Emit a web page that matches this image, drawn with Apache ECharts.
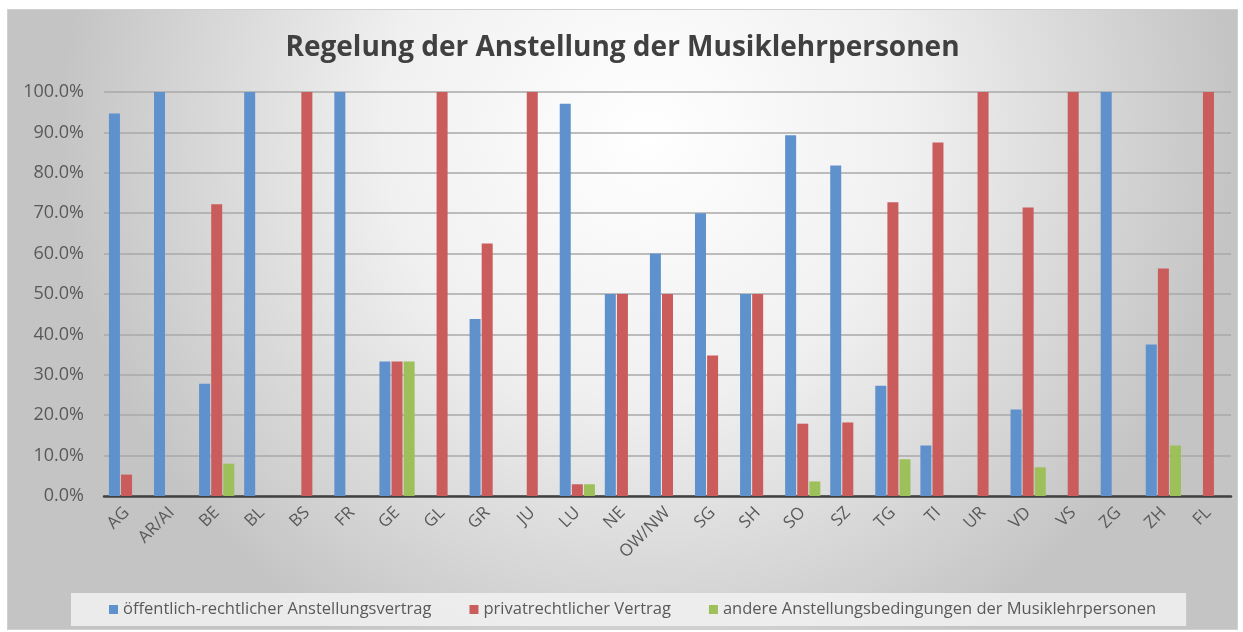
<!DOCTYPE html>
<html><head><meta charset="utf-8">
<script src="https://cdn.jsdelivr.net/npm/echarts@6/dist/echarts.min.js"></script>
<style>
html,body{margin:0;padding:0;background:#fff;width:1243px;height:632px;overflow:hidden}
#c{position:absolute;left:7px;top:9px;width:1231px;height:621px;box-sizing:border-box;border:1px solid #d0d0d0}
</style></head><body>
<div id="c"></div>
<script>
const categories = ["AG","AR/AI","BE","BL","BS","FR","GE","GL","GR","JU","LU","NE","OW/NW","SG","SH","SO","SZ","TG","TI","UR","VD","VS","ZG","ZH","FL"];
const seriesNames = ["öffentlich-rechtlicher Anstellungsvertrag","privatrechtlicher Vertrag","andere Anstellungsbedingungen der Musiklehrpersonen"];
const oeffentlich = [94.7,100,27.8,100,null,100,33.3,null,43.8,null,97.1,50,60,70,50,89.3,81.8,27.3,12.5,null,21.4,null,100,37.5,null];
const privat =      [5.3,null,72.2,null,100,null,33.3,100,62.5,100,2.9,50,50,34.8,50,17.9,18.2,72.7,87.5,100,71.4,100,null,56.3,100];
const andere =      [null,null,8.0,null,null,null,33.3,null,null,null,2.9,null,null,null,null,3.6,null,9.1,null,null,7.1,null,null,12.5,null];
const yTicks = [0,10,20,30,40,50,60,70,80,90,100];
const colors = ["#5f91cc","#cb5c5c","#9dc05b"];
const font = "Open Sans";

const chart = echarts.init(document.getElementById('c'), null, {renderer:'canvas'});
const mk = (name, data, color) => ({
  name, type:'bar', data, barWidth:11, barGap:'10%',
  itemStyle:{color}
});
chart.setOption({
  animation:false,
  backgroundColor:{type:'radial', x:0.52, y:0.2, r:0.95, colorStops:[
    {offset:0,color:'#ffffff'},{offset:0.45,color:'#f0f0f0'},{offset:1,color:'#c4c4c4'}]},
  color: colors,
  title:{text:'Regelung der Anstellung der Musiklehrpersonen', left:'center', top:19,
    textStyle:{fontFamily:font, fontSize:28, fontWeight:'bold', color:'#404040'}},
  legend:{left:63, top:583, itemWidth:9, itemHeight:9, itemGap:38, padding:[8,30,8,38],
    backgroundColor:'rgba(240,240,240,0.9)', icon:'rect',
    textStyle:{fontFamily:font, fontSize:16.5, color:'#595959'}},
  grid:{left:96, right:6, top:82, bottom:133, containLabel:false},
  xAxis:{type:'category', data:categories,
    axisLine:{lineStyle:{color:'#404040', width:2.5}},
    axisTick:{show:false},
    axisLabel:{rotate:45, margin:14, fontFamily:font, fontSize:17, color:'#595959', interval:0}},
  yAxis:{type:'value', min:0, max:100, interval:10,
    axisLine:{show:false}, axisTick:{show:false},
    splitLine:{lineStyle:{color:'#a8a8a8', width:1.5}},
    axisLabel:{margin:20, fontFamily:font, fontSize:18, color:'#595959',
      formatter: v => yTicks.includes(v) ? v.toFixed(1)+'%' : ''}},
  series:[mk(seriesNames[0], oeffentlich, colors[0]), mk(seriesNames[1], privat, colors[1]), mk(seriesNames[2], andere, colors[2])]
});
</script></body></html>
